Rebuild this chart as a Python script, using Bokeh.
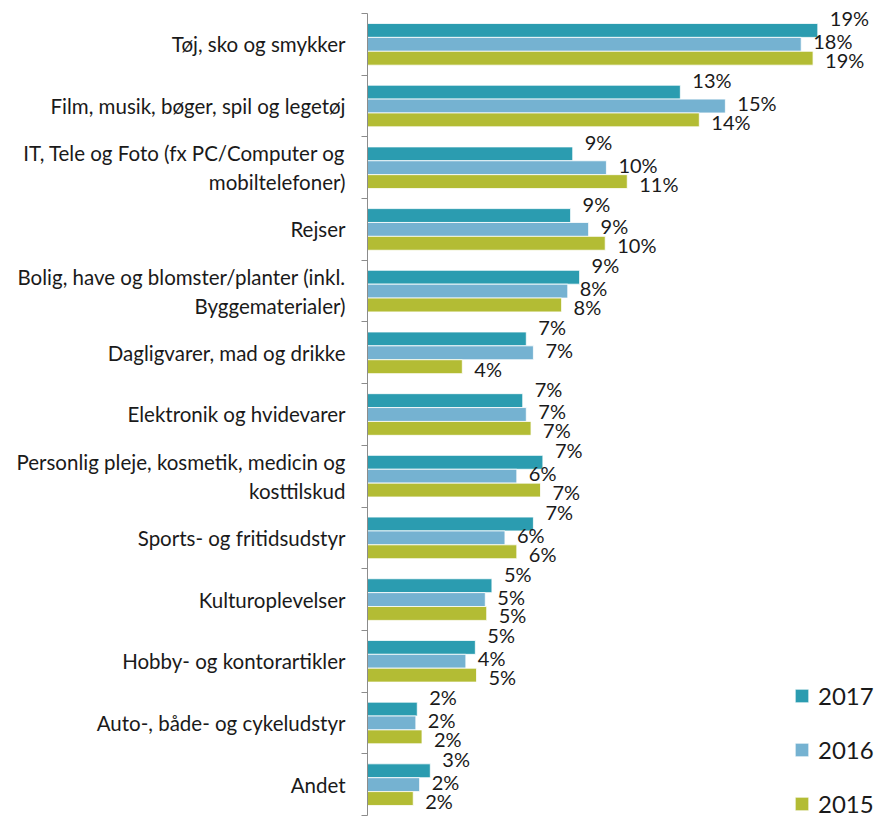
from bokeh.plotting import figure
from bokeh.models import (ColumnDataSource, Range1d, LinearAxis, FixedTicker, Legend, LegendItem)
from bokeh.core.properties import value
from bokeh.embed import file_html
from bokeh.resources import INLINE

categories = [
    "Tøj, sko og smykker",
    "Film, musik, bøger, spil og legetøj",
    "IT, Tele og Foto (fx PC/Computer og\nmobiltelefoner)",
    "Rejser",
    "Bolig, have og blomster/planter (inkl.\nByggematerialer)",
    "Dagligvarer, mad og drikke",
    "Elektronik og hvidevarer",
    "Personlig pleje, kosmetik, medicin og\nkosttilskud",
    "Sports- og fritidsudstyr",
    "Kulturoplevelser",
    "Hobby- og kontorartikler",
    "Auto-, både- og cykeludstyr",
    "Andet",
]
v2017 = [19.0, 13.2, 8.66, 8.57, 8.95, 6.7, 6.55, 7.4, 7.0, 5.25, 4.55, 2.1, 2.65]
v2016 = [18.3, 15.1, 10.08, 9.33, 8.45, 7.0, 6.7, 6.3, 5.8, 4.97, 4.15, 2.04, 2.2]
v2015 = [18.8, 14.0, 10.96, 10.03, 8.19, 4.0, 6.9, 7.3, 6.3, 5.03, 4.6, 2.3, 1.93]
years = ["2017", "2016", "2015"]
colors = ["#2B9CB0", "#75B2D1", "#B3BC34"]

FONT = "Lato"
N = len(categories)
centers = [N - i - 0.5 for i in range(N)]
bounds = list(range(N + 1))

W, H = 876, 821
LEFT = 367
px_per_pct = 23.7
px_per_cat = 61.7
xmax = (W - LEFT) / px_per_pct
ystart = -6 / px_per_cat
yend = N + 13 / px_per_cat

p = figure(width=W, height=H, output_backend="svg", toolbar_location=None,
           y_range=Range1d(ystart, yend), x_range=Range1d(0, xmax),
           x_axis_location=None, y_axis_location=None,
           min_border_left=LEFT, min_border_right=0, min_border_top=0, min_border_bottom=0)
p.outline_line_color = None
p.xgrid.visible = False
p.ygrid.visible = False

cat_axis = LinearAxis(ticker=FixedTicker(ticks=centers, minor_ticks=bounds),
                      bounds=(0, N),
                      major_label_overrides={c: lab for c, lab in zip(centers, categories)},
                      axis_line_color="#8C8C8C", major_tick_line_color=None,
                      minor_tick_line_color="#8C8C8C",
                      major_tick_out=0, major_tick_in=0, minor_tick_out=6, minor_tick_in=0,
                      major_label_text_font=FONT, major_label_text_font_size="20.5px",
                      major_label_text_color="#1a1a1a", major_label_standoff=16)
p.add_layout(cat_axis, "left")

offsets = [0.225, 0.0, -0.225]
label_dy = [-12, -3, 2]
renderers = []
for yr, col, off, dy, vals in zip(years, colors, offsets, label_dy, [v2017, v2016, v2015]):
    src = ColumnDataSource(dict(y=[c + off for c in centers], v=vals,
                                lab=[f"{round(v)}%" for v in vals]))
    r = p.hbar(y="y", right="v", left=0, height=0.225, source=src,
               fill_color=col, line_color="white", line_width=0.8)
    renderers.append(r)
    p.text(x="v", y="y", text="lab", source=src,
           x_offset=12, y_offset=dy, text_align="left", text_baseline="middle",
           text_font=value(FONT), text_font_size="20px", text_color="#1a1a1a")

legend = Legend(items=[LegendItem(label=yr, renderers=[r]) for yr, r in zip(years, renderers)],
                location=(426, 3), orientation="vertical",
                glyph_width=17, glyph_height=17, label_text_font=FONT, label_text_font_size="24px",
                label_text_color="#1a1a1a", spacing=25, padding=0, margin=0,
                label_standoff=8, border_line_color=None, background_fill_alpha=0)
p.add_layout(legend, "center")

open("out.html", "w").write(file_html(p, INLINE))
